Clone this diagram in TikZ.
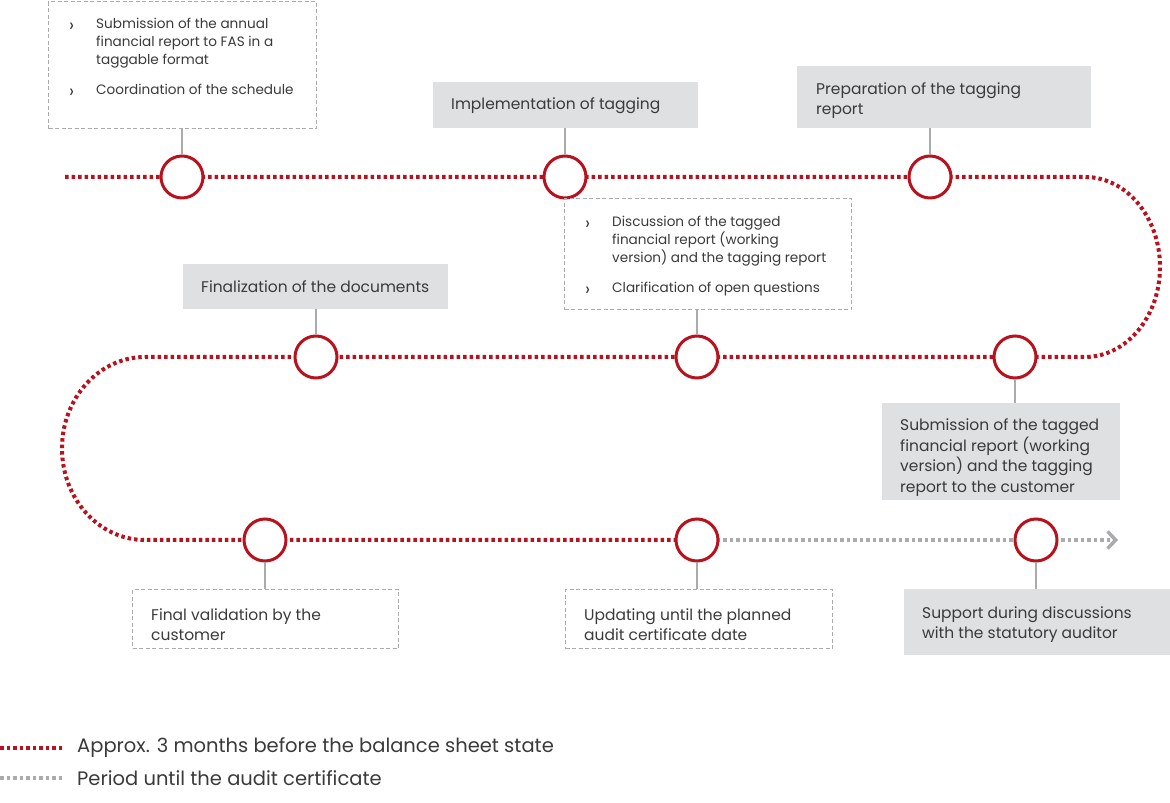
\documentclass[tikz,border=0pt]{standalone}
\usepackage{fontspec}
\setmainfont{Poppins}
\usetikzlibrary{arrows.meta}
\definecolor{kred}{HTML}{B8121E}
\definecolor{kgrey}{HTML}{A9ABAE}
\definecolor{kfill}{HTML}{DEE0E2}
\definecolor{ktext}{HTML}{3A3A3A}
\definecolor{kdash}{HTML}{ABABAB}
\tikzset{
  reddots/.style={kred, line width=4pt, dash pattern=on 3.5pt off 3pt},
  graydots/.style={kgrey, line width=4pt, dash pattern=on 3.5pt off 3pt},
  milestone/.style={circle, draw=kred, line width=3pt, fill=white, minimum size=42pt, inner sep=0pt},
  graybox/.style={fill=kfill, anchor=north west, inner sep=0pt},
  dashbox/.style={draw=kdash, line width=1.3pt, dash pattern=on 4pt off 2.5pt, anchor=north west, inner sep=0pt},
  stem/.style={kgrey, line width=1.5pt},
  boxtext/.style={anchor=west, align=left, text=ktext, inner sep=0pt, font=\fontsize{15.5}{20.5}\selectfont},
  itemtext/.style={anchor=north west, text=ktext, inner sep=0pt, font=\fontsize{13.6}{18}\selectfont},
  legendtext/.style={anchor=west, text=ktext, inner sep=0pt, font=\fontsize{19.5}{22}\selectfont}
}
\newcommand{\chev}{\raisebox{-2.5pt}{\fontsize{18}{18}\selectfont ›}}

\begin{document}
\begin{tikzpicture}[x=1pt, y=1pt]
  \useasboundingbox (0,0) rectangle (1170,803);
  % milestone positions
  \coordinate (p1) at (182,626);
  \coordinate (p2) at (565,626);
  \coordinate (p3) at (930,626);
  \coordinate (p4) at (316,446);
  \coordinate (p5) at (697,446);
  \coordinate (p6) at (1015,446);
  \coordinate (p7) at (265,263);
  \coordinate (p8) at (697,263);
  \coordinate (p9) at (1036,263);
  \coordinate (start) at (65,626);
  \coordinate (turn1) at (1085,626);
  \coordinate (turn2) at (145,446);
  \coordinate (tip) at (1118,263);

  % timeline
  \draw[reddots] (start) -- (turn1)
    arc[start angle=90, end angle=-90, x radius=75, y radius=90] -- (turn2)
    arc[start angle=90, end angle=270, x radius=83, y radius=91.5] -- (p8);
  \draw[graydots, -{Straight Barb[length=8pt, width=17pt, line width=3.5pt]}] (p8) -- (tip);

  \foreach \i in {1,...,9}
    \node[milestone] (m\i) at (p\i) {};

  % boxes
  \node[dashbox, minimum width=268pt, minimum height=127pt] (kickoff) at (48,802) {};
  \node[itemtext] (kickoff-txt) at (69,787) {%
    \begin{tabular}{@{}p{27pt}@{}l@{}}
      \chev & Submission of the annual\\
            & financial report to FAS in a\\
            & taggable format\\[12pt]
      \chev & Coordination of the schedule
    \end{tabular}};
  \node[graybox, minimum width=265pt, minimum height=46pt] (tagging) at (433,721) {};
  \node[boxtext] (tagging-txt) at (451,697) {Implementation of tagging};
  \node[graybox, minimum width=294pt, minimum height=62pt] (prep) at (797,737) {};
  \node[boxtext] (prep-txt) at (816,702.5) {Preparation of the tagging\\report};
  \node[dashbox, minimum width=287pt, minimum height=111pt] (discuss) at (564,605) {};
  \node[itemtext] (discuss-txt) at (585,589) {%
    \begin{tabular}{@{}p{27pt}@{}l@{}}
      \chev & Discussion of the tagged\\
            & financial report (working\\
            & version) and the tagging report\\[12pt]
      \chev & Clarification of open questions
    \end{tabular}};
  \node[graybox, minimum width=265pt, minimum height=45pt] (final) at (183,539) {};
  \node[boxtext] (final-txt) at (201,516) {Finalization of the documents};
  \node[graybox, minimum width=238pt, minimum height=97pt] (submit) at (882,400) {};
  \node[boxtext] (submit-txt) at (900,345.5) {Submission of the tagged\\financial report (working\\version) and the tagging\\report to the customer};
  \node[dashbox, minimum width=266pt, minimum height=59pt] (valid) at (132,214) {};
  \node[boxtext] (valid-txt) at (151,178.5) {Final validation by the\\customer};
  \node[dashbox, minimum width=267pt, minimum height=59pt] (update) at (565,214) {};
  \node[boxtext] (update-txt) at (584,178.5) {Updating until the planned\\audit certificate date};
  \node[graybox, minimum width=266pt, minimum height=66pt] (support) at (904,214) {};
  \node[boxtext] (support-txt) at (922,178.5) {Support during discussions\\with the statutory auditor};

  % stems
  \draw[stem] (m1.north) -- (m1.north |- kickoff.south);
  \draw[stem] (m2.north) -- (m2.north |- tagging.south);
  \draw[stem] (m3.north) -- (m3.north |- prep.south);
  \draw[stem] (m4.north) -- (m4.north |- final.south);
  \draw[stem] (m5.north) -- (m5.north |- discuss.south);
  \draw[stem] (m6.south) -- (m6.south |- submit.north);
  \draw[stem] (m7.south) -- (m7.south |- valid.north);
  \draw[stem] (m8.south) -- (m8.south |- update.north);
  \draw[stem] (m9.south) -- (m9.south |- support.north);

  % legend
  \node[legendtext] (leg-red) at (77,55) {Approx. 3 months before the balance sheet state};
  \node[legendtext] (leg-grey) at (77,25) {Period until the audit certificate};
  \coordinate (leg-red-start) at (0,55);
  \coordinate (leg-grey-start) at (0,25);
  \draw[reddots] (leg-red-start) -- ([xshift=-12pt]leg-red.west);
  \draw[graydots] (leg-grey-start) -- ([xshift=-12pt]leg-grey.west);
\end{tikzpicture}
\end{document}
